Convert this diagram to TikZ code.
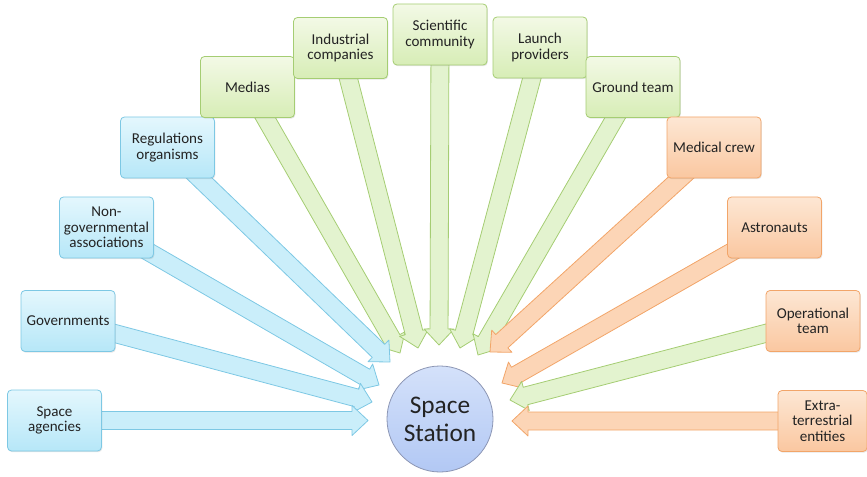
\documentclass[tikz,border=0pt]{standalone}
\usepackage{fontspec}
\setmainfont{Carlito}
\usepackage{tikz}
\usetikzlibrary{calc,positioning,shadows,backgrounds}
\definecolor{txt}{RGB}{35,35,35}
\definecolor{bluetop}{RGB}{228,247,253}
\definecolor{bluebot}{RGB}{182,231,248}
\definecolor{blueline}{RGB}{125,200,228}
\definecolor{bluearr}{RGB}{202,238,250}
\definecolor{greentop}{RGB}{243,249,230}
\definecolor{greenbot}{RGB}{215,237,182}
\definecolor{greenline}{RGB}{165,205,115}
\definecolor{greenarr}{RGB}{227,243,207}
\definecolor{orangetop}{RGB}{253,231,212}
\definecolor{orangebot}{RGB}{250,199,160}
\definecolor{orangeline}{RGB}{242,165,105}
\definecolor{orangearr}{RGB}{252,213,182}
\definecolor{sttop}{RGB}{212,225,250}
\definecolor{stbot}{RGB}{178,200,244}
\definecolor{stline}{RGB}{140,150,180}
\tikzstyle{box}        = [rectangle, rounded corners=3pt, minimum width=70.5pt, minimum height=45.75pt, inner sep=1pt, align=center, text=txt, font=\fontsize{11.3}{11.6}\selectfont, line width=0.6pt, drop shadow={shadow xshift=0.6pt, shadow yshift=-0.9pt, opacity=0.2}]
\tikzstyle{bluebox}    = [box, draw=blueline, top color=bluetop, bottom color=bluebot]
\tikzstyle{greenbox}   = [box, draw=greenline, top color=greentop, bottom color=greenbot]
\tikzstyle{orangebox}  = [box, draw=orangeline, top color=orangetop, bottom color=orangebot]
\tikzstyle{station}    = [circle, minimum size=79.5pt, inner sep=0pt, align=center, draw=stline, line width=0.6pt, top color=sttop, bottom color=stbot, text=txt, font=\fontsize{19}{21}\selectfont]
\tikzstyle{block}      = [to path={let \p1 = ($(\tikztotarget)!12pt!(\tikztostart)$) in
  ($(\tikztostart)!6.75pt!90:(\tikztotarget)$) -- ($(\p1)!6.75pt!90:(\tikztotarget)$)
  -- ($(\p1)!11.25pt!90:(\tikztotarget)$) -- (\tikztotarget)
  -- ($(\p1)!11.25pt!-90:(\tikztotarget)$) -- ($(\p1)!6.75pt!-90:(\tikztotarget)$)
  -- ($(\tikztostart)!6.75pt!-90:(\tikztotarget)$) -- cycle}]
\tikzstyle{bluearrow}   = [draw=blueline, fill=bluearr, line width=0.6pt, line join=round]
\tikzstyle{greenarrow}  = [draw=greenline, fill=greenarr, line width=0.6pt, line join=round]
\tikzstyle{orangearrow} = [draw=orangeline, fill=orangearr, line width=0.6pt, line join=round]
\begin{document}
\begin{tikzpicture}[x=0.75pt,y=-0.75pt]
		\useasboundingbox (0,0) rectangle (867,477);

		\node[bluebox] (agen) at (54.5,420.5) {Space\\agencies};
		\node[bluebox] (gov) at (68,321) {Governments};
		\node[bluebox] (ngo) at (106.5,227.5) {Non-\\governmental\\associations};
		\node[bluebox] (reg) at (167.5,147.5) {Regulations\\organisms};
		\node[greenbox] (med) at (247.5,87) {Medias};
		\node[greenbox] (ind) at (340.5,48) {Industrial\\companies};
		\node[greenbox] (sci) at (440,34.5) {Scientific\\community};
		\node[greenbox] (lau) at (540,47.5) {Launch\\providers};
		\node[greenbox] (gro) at (633,87) {Ground team};
		\node[orangebox] (mcr) at (714,147.5) {Medical crew};
		\node[orangebox] (ast) at (774.5,227.5) {Astronauts};
		\node[orangebox] (ope) at (813,321) {Operational\\team};
		\node[orangebox, minimum width=66.75pt] (ext) at (822.5,421) {Extra-\\terrestrial\\entities};

		\node[station] (st) at (440,419) {Space\\Station};

		\coordinate (agen-tip) at (368,420.5);
		\coordinate (gov-tip) at (372,402);
		\coordinate (ngo-tip) at (379,385);
		\coordinate (reg-tip) at (390,362);
		\coordinate (med-tip) at (400,353);
		\coordinate (ind-tip) at (418,348);
		\coordinate (sci-tip) at (439,345);
		\coordinate (lau-tip) at (460,348);
		\coordinate (gro-tip) at (478,355);
		\coordinate (mcr-tip) at (490,352);
		\coordinate (ast-tip) at (502,383);
		\coordinate (ope-tip) at (510,400);
		\coordinate (ext-tip) at (512,421);

		\begin{scope}[on background layer]
		\path[greenarrow] (med) to[block] (med-tip);
		\path[greenarrow] (ind) to[block] (ind-tip);
		\path[greenarrow] (sci) to[block] (sci-tip);
		\path[greenarrow] (lau) to[block] (lau-tip);
		\path[greenarrow] (gro) to[block] (gro-tip);
		\path[bluearrow] (reg) to[block] (reg-tip);
		\path[bluearrow] (ngo) to[block] (ngo-tip);
		\path[bluearrow] (gov) to[block] (gov-tip);
		\path[bluearrow] (agen) to[block] (agen-tip);
		\path[orangearrow] (mcr) to[block] (mcr-tip);
		\path[orangearrow] (ast) to[block] (ast-tip);
		\path[greenarrow] (ope) to[block] (ope-tip);
		\path[orangearrow] (ext) to[block] (ext-tip);
		\end{scope}
	\end{tikzpicture}
\end{document}
